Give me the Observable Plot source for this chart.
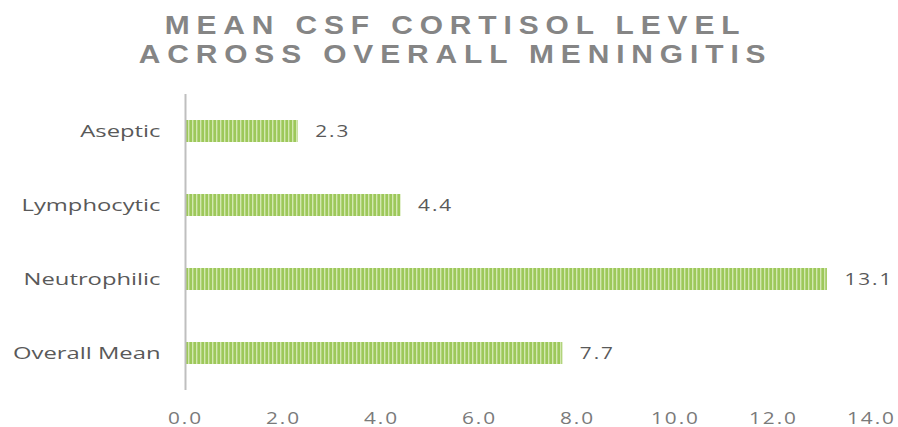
<!DOCTYPE html>
<html><head><meta charset="utf-8">
<script src="https://cdn.jsdelivr.net/npm/d3@7"></script>
<script src="https://cdn.jsdelivr.net/npm/@observablehq/plot@0.6"></script>
<style>
body{margin:0;background:#fff;}
#title{width:898px;height:80px;box-sizing:border-box;padding-top:11px;padding-left:14px;text-align:center;}
#title span{display:inline-block;transform:scaleX(1.15);transform-origin:center;font-family:"Liberation Sans",Arial,sans-serif;font-weight:bold;font-size:26px;line-height:29px;letter-spacing:6px;color:#858585;}
</style></head><body>
<div id="title"><span>MEAN CSF CORTISOL LEVEL<br>ACROSS OVERALL MENINGITIS</span></div>
<div id="chart"></div>
<script>
const categories = ["Aseptic", "Lymphocytic", "Neutrophilic", "Overall Mean"];
const values = [2.3, 4.4, 13.1, 7.7];
const xTicks = [0, 2, 4, 6, 8, 10, 12, 14];
const data = categories.map((c, i) => ({category: c, value: values[i]}));

const chart = Plot.plot({
  width: 898,
  height: 347,
  marginLeft: 185,
  marginRight: 27,
  marginTop: 14,
  marginBottom: 37,
  style: {fontFamily: "'Open Sans', sans-serif", color: "#595959", background: "#fff"},
  x: {domain: [0, 14], ticks: xTicks, tickFormat: d => d.toFixed(1), label: null},
  y: {domain: categories, paddingInner: 0.7, paddingOuter: 0.35, label: null},
  marks: [
    Plot.barX(data, {y: "category", x: "value", fill: "url(#stripes)"}),
    Plot.text(data, {y: "category", x: "value", text: d => d.value.toFixed(1), textAnchor: "start", dx: 17, fontSize: 16, fill: "#595959", className: "vlab"}),
    Plot.ruleX([0], {stroke: "#bfbfbf", strokeWidth: 2}),
    Plot.axisX({ticks: xTicks, tickFormat: d => d.toFixed(1), tickSize: 0, tickPadding: 22, fontSize: 16, label: null, fill: "#7a7a7a", className: "xax"}),
    Plot.axisY({tickSize: 0, tickPadding: 25, fontSize: 17, label: null, fill: "#595959", className: "yax"})
  ]
});
const ns = "http://www.w3.org/2000/svg";
const defs = document.createElementNS(ns, "defs");
defs.innerHTML = `<pattern id="stripes" patternUnits="userSpaceOnUse" width="4" height="10">
  <rect width="4" height="10" fill="#9dc85a"/>
  <rect x="0" width="1.4" height="10" fill="#d3e8b0"/>
</pattern>`;
chart.insertBefore(defs, chart.firstChild);

// stretch text glyphs horizontally around their anchor points
function stretch(sel, s, ls) {
  chart.querySelectorAll(sel).forEach(t => {
    let tr = t.getAttribute("transform");
    const x = t.getAttribute("x");
    if (!tr) {
      tr = `translate(${+x || 0},0)`;
      t.removeAttribute("x");
    }
    t.setAttribute("transform", tr + ` scale(${s},1)`);
    if (ls) t.style.letterSpacing = ls + "px";
  });
}
stretch("g[aria-label='y-axis tick label'] text", 1.4, 0);
stretch("g[aria-label='x-axis tick label'] text", 1.3, 1.5);
stretch("g.vlab text, .vlab text", 1.3, 1.5);

document.getElementById("chart").appendChild(chart);
</script>
</body></html>
